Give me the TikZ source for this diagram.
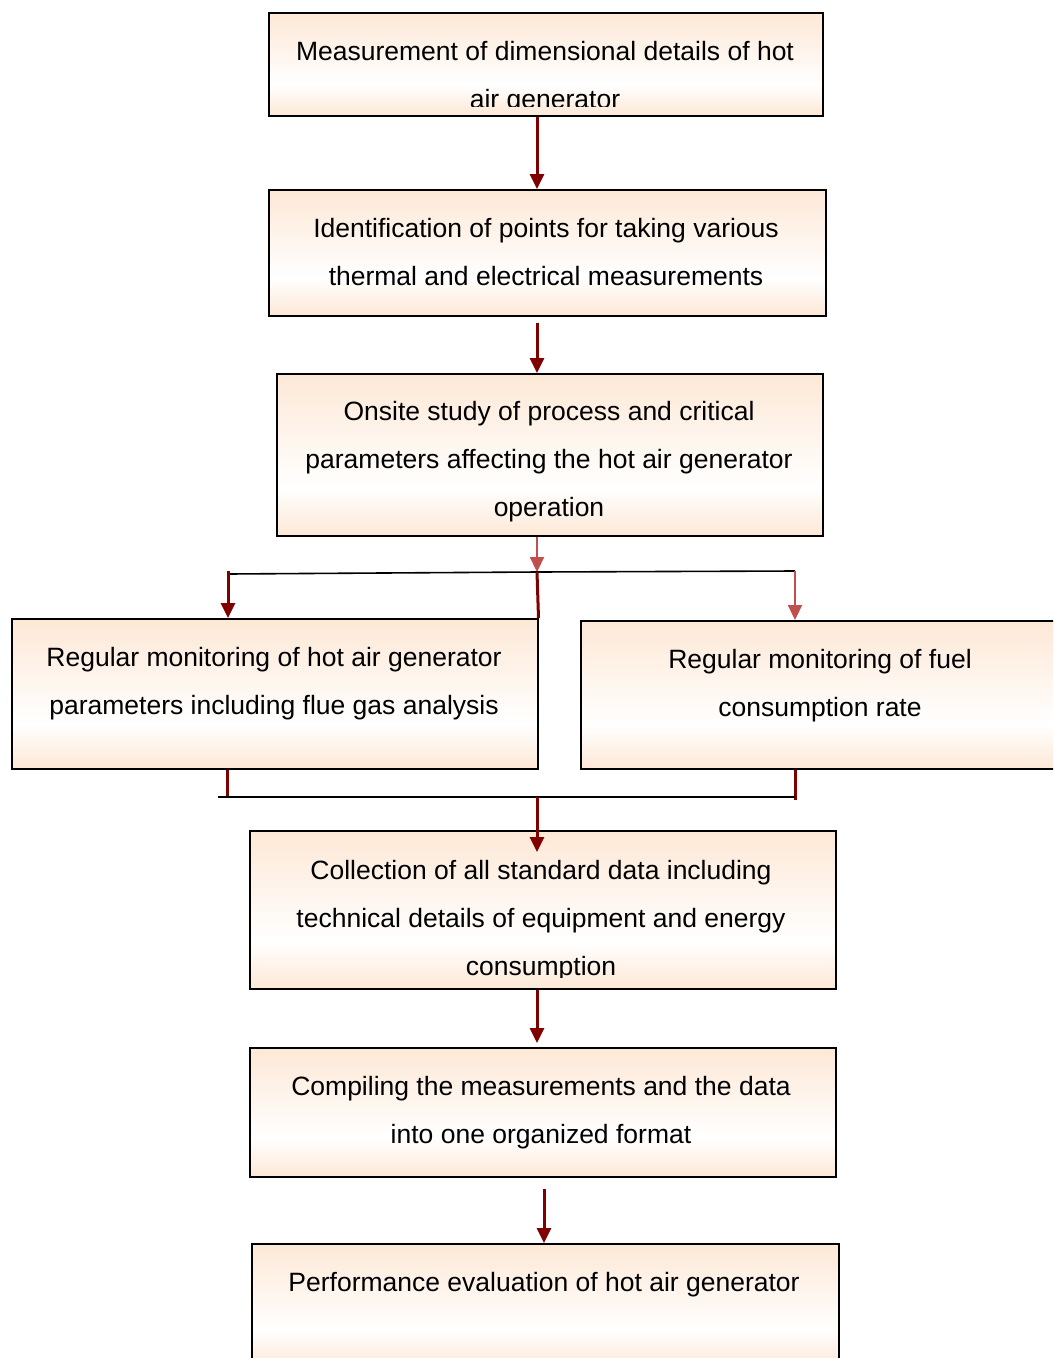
\documentclass[tikz,border=0pt]{standalone}
\usepackage{fontspec}
\setmainfont{Liberation Sans}
\usetikzlibrary{arrows.meta}
\definecolor{peach}{RGB}{253,232,214}
\definecolor{darkred}{RGB}{128,0,0}
\definecolor{lightred}{RGB}{192,80,77}
\pgfdeclareverticalshading{boxshade}{100bp}{color(0bp)=(peach); color(25bp)=(peach); color(40bp)=(white); color(75bp)=(peach); color(100bp)=(peach)}
\tikzset{
  box/.style={draw=black, line width=1.5pt, shading=boxshade, anchor=north west, inner sep=0pt},
  txt/.style={align=center, anchor=base, inner sep=0pt, font=\fontsize{26.5}{48}\selectfont},
  arr/.style={draw=darkred, line width=3pt, -{Triangle[length=15pt,width=14pt]}},
  larr/.style={draw=lightred, line width=2.2pt, -{Triangle[length=15pt,width=14pt]}},
  stem/.style={draw=darkred, line width=3pt},
  joinline/.style={draw=black, line width=1.6pt},
}
\begin{document}
\begin{tikzpicture}[x=1pt,y=-1pt]
\clip (0,0) rectangle (1053,1358);
\fill[white] (0,0) rectangle (1053,1358);
% boxes
\node[box, minimum width=554, minimum height=103] (b1) at (268,12) {};
\node[box, minimum width=557, minimum height=126] (b2) at (268,189) {};
\node[box, minimum width=546, minimum height=162] (b3) at (276,373) {};
\node[box, minimum width=526, minimum height=150] (b4) at (11,618) {};
\node[box, minimum width=490, minimum height=148] (b5) at (580,620) {};
\node[box, minimum width=586, minimum height=158] (b6) at (249,830) {};
\node[box, minimum width=586, minimum height=129] (b7) at (249,1047) {};
\node[box, minimum width=587, minimum height=122] (b8) at (251,1243) {};
% texts (anchored at the baseline of the last line)
\begin{scope}
\clip ([yshift=-3pt]b1.north west) rectangle ([yshift=10pt]b1.south east);
\node[txt] (t1) at (545,108) {Measurement of dimensional details of hot\\air generator};
\end{scope}
\node[txt] (t2) at (546,285) {Identification of points for taking various\\thermal and electrical measurements};
\node[txt] (t3) at (549,516) {Onsite study of process and critical\\parameters affecting the hot air generator\\operation};
\node[txt] (t4) at (274,714) {Regular monitoring of hot air generator\\parameters including flue gas analysis};
\node[txt] (t5) at (820,716) {Regular monitoring of fuel\\consumption rate};
\begin{scope}
\clip ([yshift=-3pt]b6.north west) rectangle ([yshift=12pt]b6.south east);
\node[txt] (t6) at (541,975) {Collection of all standard data including\\technical details of equipment and energy\\consumption};
\end{scope}
\node[txt] (t7) at (541,1143) {Compiling the measurements and the data\\into one organized format};
\node[txt] (t8) at (544,1291) {Performance evaluation of hot air generator};
% junction coordinates
\coordinate (xm) at (537,0);
\coordinate (x8) at (544,0);
\coordinate (j1) at (537,572);
\coordinate (jl) at (228,574);
\coordinate (jr) at (795,571);
\coordinate (jbl) at (227,797);
\coordinate (jbr) at (795,800);
\coordinate (bl) at (218,797);
\coordinate (br) at (795,797);
\coordinate (j2) at (537,797);
\coordinate (tip6) at (537,852);
% connectors
\draw[arr] (b1.south -| xm) -- (b2.north -| xm);
\draw[arr] ([yshift=-6pt]b2.south -| xm) -- (b3.north -| xm);
\draw[larr] (b3.south -| xm) -- (j1);
\draw[joinline] (jl) -- (j1) -- (jr);
\draw[arr] ([yshift=3pt]jl) -- (b4.north -| jl);
\draw[stem] (j1) -- (b4.north east);
\draw[larr] (jr) -- (b5.north -| jr);
\draw[stem] (b4.south -| jbl) -- (jbl);
\draw[stem] (b5.south -| jbr) -- (jbr);
\draw[joinline] (bl) -- (br);
\draw[arr] (j2) -- (tip6);
\draw[arr] (b6.south -| xm) -- ([yshift=4pt]b7.north -| xm);
\draw[arr] ([yshift=-11pt]b7.south -| x8) -- (b8.north -| x8);
\end{tikzpicture}
\end{document}
